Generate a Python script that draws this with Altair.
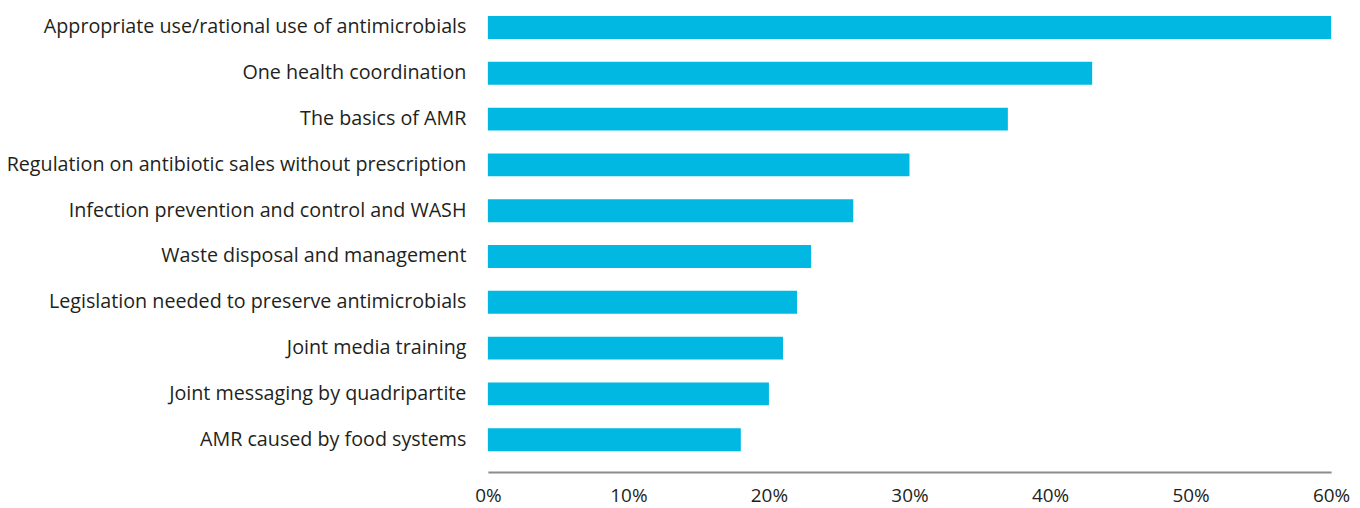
import altair as alt
import pandas as pd

categories = [
    "Appropriate use/rational use of antimicrobials",
    "One health coordination",
    "The basics of AMR",
    "Regulation on antibiotic sales without prescription",
    "Infection prevention and control and WASH",
    "Waste disposal and management",
    "Legislation needed to preserve antimicrobials",
    "Joint media training",
    "Joint messaging by quadripartite",
    "AMR caused by food systems",
]
values = [0.60, 0.43, 0.37, 0.30, 0.26, 0.23, 0.22, 0.21, 0.20, 0.18]
tick_values = [0, 0.1, 0.2, 0.3, 0.4, 0.5, 0.6]

df = pd.DataFrame({"topic": categories, "share": values})

FONT = "Open Sans"

chart = alt.Chart(df).mark_bar(color="#00B8E2").encode(
    x=alt.X(
        "share:Q",
        scale=alt.Scale(domain=[0, 0.6], nice=False),
        axis=alt.Axis(
            format=".0%",
            values=tick_values,
            grid=False,
            ticks=False,
            labelFlush=False,
            domainColor="#8C8C8C",
            domainWidth=2,
            labelFontSize=19,
            labelFont=FONT,
            labelColor="#231F20",
            labelPadding=15,
            offset=14,
            title=None,
        ),
    ),
    y=alt.Y(
        "topic:N",
        sort=categories,
        scale=alt.Scale(paddingInner=0.5, paddingOuter=0.152),
        axis=alt.Axis(
            domain=False,
            ticks=False,
            labelFontSize=19.8,
            labelFont=FONT,
            labelColor="#231F20",
            labelPadding=22,
            labelLimit=600,
            title=None,
        ),
    ),
).properties(
    width=847,
    height=451,
    autosize=alt.AutoSizeParams(type="none"),
    padding={"left": 482, "top": 0, "right": 21, "bottom": 50},
).configure_view(stroke=None)

chart.save("out.html", embed_options={"renderer": "svg", "actions": False})
